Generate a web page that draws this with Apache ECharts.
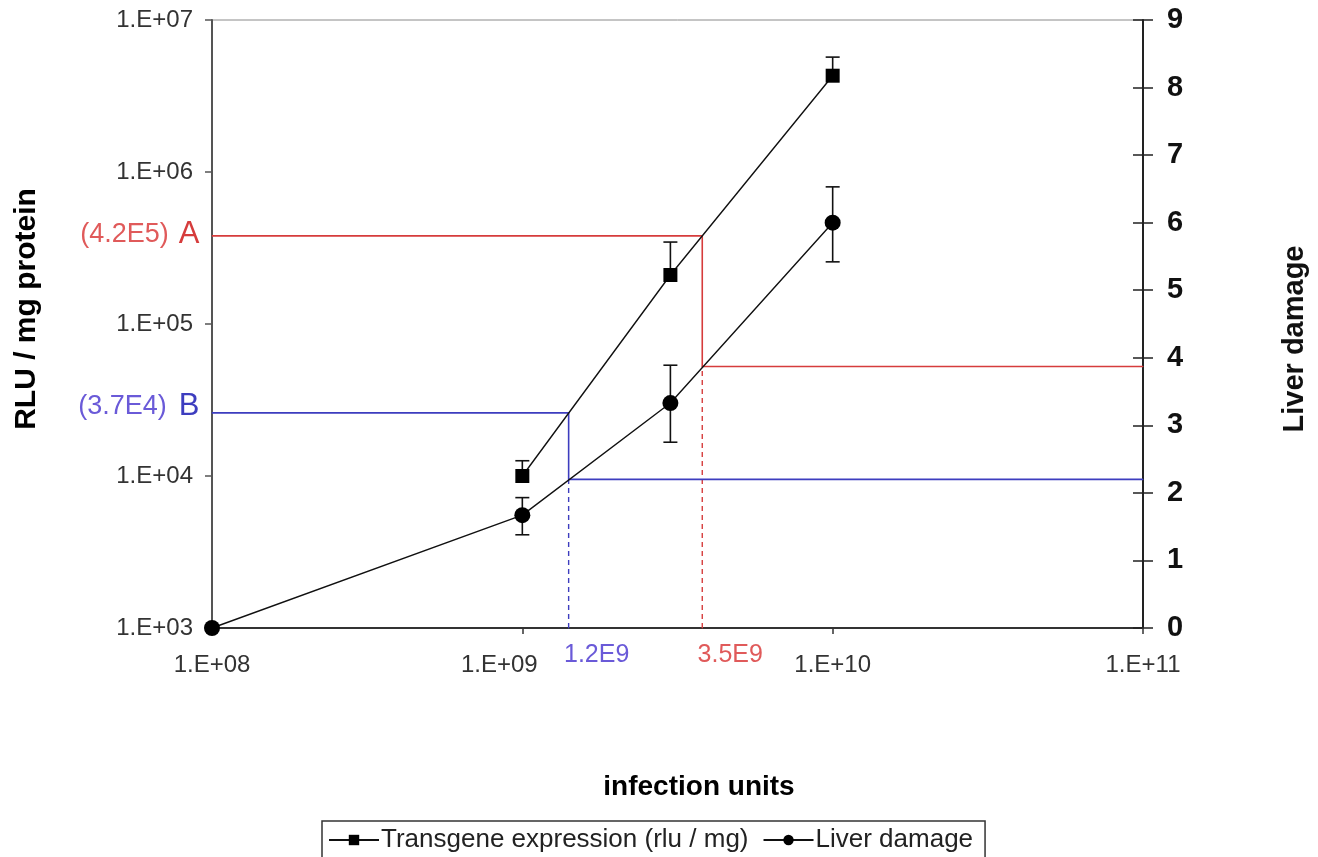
<!DOCTYPE html>
<html><head><meta charset="utf-8">
<script src="https://cdn.jsdelivr.net/npm/echarts@6/dist/echarts.min.js"></script>
<style>html,body{margin:0;padding:0;background:#fff}#c{width:1318px;height:857px}</style>
</head><body><div id="c"></div>
<script>
// ---- data ----
const xTickLabels = ['1.E+08', '1.E+09', '1.E+10', '1.E+11'];
const yTickLabels = ['1.E+03', '1.E+04', '1.E+05', '1.E+06', '1.E+07'];
const transgeneName = 'Transgene expression (rlu / mg)';
const liverName = 'Liver damage';
const transgeneX = [1e9, 3e9, 1e10];
const transgeneY = [1.0e4, 2.1e5, 4.3e6];
const transgeneErrHigh = [1.26e4, 3.46e5, 5.7e6];
const liverX = [1e8, 1e9, 3e9, 1e10];
const liverY = [0, 1.67, 3.33, 6.0];
const liverErrLow = [null, 1.38, 2.75, 5.42];
const liverErrHigh = [null, 1.93, 3.89, 6.53];
// threshold guides: A (red) and B (blue)
const guideA = { x: 3.8e9, rlu: 3.8e5, damage: 3.87, rluText: '(4.2E5)', tag: 'A', xText: '3.5E9' };
const guideB = { x: 1.41e9, rlu: 2.6e4, damage: 2.2, rluText: '(3.7E4)', tag: 'B', xText: '1.2E9' };

const X_MIN = 1e8, X_MAX = 1e11, Y_MIN = 1e3, Y_MAX = 1e7, R_MIN = 0, R_MAX = 9;
const FONT = '"Liberation Sans", Arial, sans-serif';
const RED = '#d63c3c', RED_TXT = '#e05a5a', BLUE = '#3d3dbf', BLUE_TXT = '#6a5ad8';

// left-axis value at the same height as a right-axis value
function leftEquiv(d) {
  const lmin = Math.log10(Y_MIN), lmax = Math.log10(Y_MAX);
  return Math.pow(10, lmin + (d - R_MIN) / (R_MAX - R_MIN) * (lmax - lmin));
}

function errSeries(yIndex, rows) {
  return {
    type: 'custom', yAxisIndex: yIndex, silent: true, z: 3,
    data: rows, encode: { x: 0, y: [1, 2] },
    renderItem(params, api) {
      const x = api.value(0), lo = api.value(1), hi = api.value(2), capLo = api.value(3);
      const p1 = api.coord([x, lo]), p2 = api.coord([x, hi]);
      const w = 7, st = { stroke: '#111', lineWidth: 1.6 };
      const ch = [
        { type: 'line', shape: { x1: p1[0], y1: p1[1], x2: p2[0], y2: p2[1] }, style: st },
        { type: 'line', shape: { x1: p2[0] - w, y1: p2[1], x2: p2[0] + w, y2: p2[1] }, style: st }
      ];
      if (capLo) ch.push({ type: 'line', shape: { x1: p1[0] - w, y1: p1[1], x2: p1[0] + w, y2: p1[1] }, style: st });
      return { type: 'group', children: ch };
    }
  };
}

function guideSeries(g, color, txtColor, labelDy, tagPad) {
  const lbl = {
    show: true, position: 'left', distance: 12, offset: [0, labelDy],
    formatter: '{a|' + g.rluText + '}{b|' + g.tag + '}',
    rich: {
      a: { fontSize: 27, color: txtColor, fontFamily: FONT },
      b: { fontSize: 31, color: color, fontFamily: FONT, padding: [0, 0, 0, tagPad] }
    }
  };
  const base = { type: 'line', silent: true, symbol: 'circle', symbolSize: 1, showSymbol: true, z: 1,
    itemStyle: { color: color }, lineStyle: { color: color, width: 1.6 } };
  return [
    Object.assign({}, base, { yAxisIndex: 0,
      data: [ { value: [X_MIN, g.rlu], label: lbl }, [g.x, g.rlu], [g.x, leftEquiv(g.damage)] ] }),
    Object.assign({}, base, { yAxisIndex: 1, data: [[g.x, g.damage], [X_MAX, g.damage]] }),
    Object.assign({}, base, { yAxisIndex: 1, lineStyle: { color: color, width: 1.4, type: [5, 4] },
      data: [ { value: [g.x, R_MIN], label: { show: true, position: 'bottom', distance: 14, offset: [28, 0],
        formatter: g.xText, fontSize: 25, color: txtColor, fontFamily: FONT } }, [g.x, g.damage] ] })
  ];
}

const chart = echarts.init(document.getElementById('c'), null, { renderer: 'canvas' });
chart.setOption({
  backgroundColor: '#fff',
  animation: false,
  textStyle: { fontFamily: FONT },
  grid: { left: 212, right: 175, top: 20, bottom: 229, show: true, borderColor: '#8a8a8a', borderWidth: 1 },
  legend: {
    top: 821, left: 322, padding: [6, 12, 20, 6], itemGap: 14, itemWidth: 50, itemHeight: 13,
    borderColor: '#333', borderWidth: 1.5, borderRadius: 0,
    data: [transgeneName, liverName],
    textStyle: { fontSize: 26, color: '#222', fontFamily: FONT, padding: [0, 0, 0, -3] }
  },
  graphic: [
    { type: 'text', x: 27, y: 309, rotation: Math.PI / 2,
      style: { text: 'RLU / mg protein', font: 'bold 30px ' + FONT, fill: '#000', align: 'center', verticalAlign: 'middle', textAlign: 'center', textVerticalAlign: 'middle' } },
    { type: 'text', x: 1295, y: 339, rotation: Math.PI / 2,
      style: { text: 'Liver damage', font: 'bold 29px ' + FONT, fill: '#111', align: 'center', verticalAlign: 'middle', textAlign: 'center', textVerticalAlign: 'middle' } },
    { type: 'text', x: 699, y: 787,
      style: { text: 'infection units', font: 'bold 28px ' + FONT, fill: '#000', align: 'center', verticalAlign: 'middle', textAlign: 'center', textVerticalAlign: 'middle' } }
  ],
  xAxis: {
    type: 'log', logBase: 10, min: X_MIN, max: X_MAX,
    axisLine: { lineStyle: { color: '#333', width: 2 } },
    axisTick: { show: true, length: 6, lineStyle: { color: '#333', width: 1.5 } },
    minorTick: { show: false }, splitLine: { show: false },
    axisLabel: { margin: 25, fontSize: 24, color: '#333', fontFamily: FONT,
      formatter: v => {
        const i = Math.round(Math.log10(v)) - 8;
        return i === 1 ? '{shift|' + xTickLabels[i] + '}' : xTickLabels[i];
      },
      rich: { shift: { fontSize: 24, color: '#333', fontFamily: FONT, padding: [0, 46, 10, 0] } } }
  },
  yAxis: [
    { type: 'log', logBase: 10, min: Y_MIN, max: Y_MAX, position: 'left',
      axisLine: { show: true, lineStyle: { color: '#555', width: 2 } },
      axisTick: { show: true, length: 7, lineStyle: { color: '#555', width: 1.5 } },
      minorTick: { show: false }, splitLine: { show: false },
      axisLabel: { margin: 19, fontSize: 24, color: '#333', fontFamily: FONT,
        formatter: v => yTickLabels[Math.round(Math.log10(v)) - 3] } },
    { type: 'value', min: R_MIN, max: R_MAX, interval: 1, position: 'right',
      axisLine: { show: true, lineStyle: { color: '#222', width: 2 } },
      axisTick: { show: true, length: 10, lineStyle: { color: '#222', width: 1.5 } },
      splitLine: { show: false },
      axisLabel: { margin: 24, fontSize: 29, fontWeight: 'bold', color: '#111', fontFamily: FONT } },
    { type: 'value', min: R_MIN, max: R_MAX, interval: 1, position: 'right',
      axisLine: { show: false }, axisTick: { show: true, inside: true, length: 10, lineStyle: { color: '#222', width: 1.5 } },
      axisLabel: { show: false }, splitLine: { show: false } }
  ],
  series: [
    ...guideSeries(guideA, RED, RED_TXT, -1, 10),
    ...guideSeries(guideB, BLUE, BLUE_TXT, -6, 12),
    { name: transgeneName, type: 'line', yAxisIndex: 0, z: 4,
      data: transgeneX.map((x, i) => [x, transgeneY[i]]),
      symbol: 'rect', symbolSize: 14, itemStyle: { color: '#000' },
      lineStyle: { color: '#111', width: 1.4 } },
    { name: liverName, type: 'line', yAxisIndex: 1, z: 4,
      data: liverX.map((x, i) => [x, liverY[i]]),
      symbol: 'circle', symbolSize: 16, itemStyle: { color: '#000' },
      lineStyle: { color: '#111', width: 1.4 } },
    errSeries(0, transgeneX.map((x, i) => [x, transgeneY[i], transgeneErrHigh[i], 0])),
    errSeries(1, liverX.map((x, i) => [x, liverErrLow[i], liverErrHigh[i], 1]).filter(r => r[1] !== null))
  ]
});
</script></body></html>
